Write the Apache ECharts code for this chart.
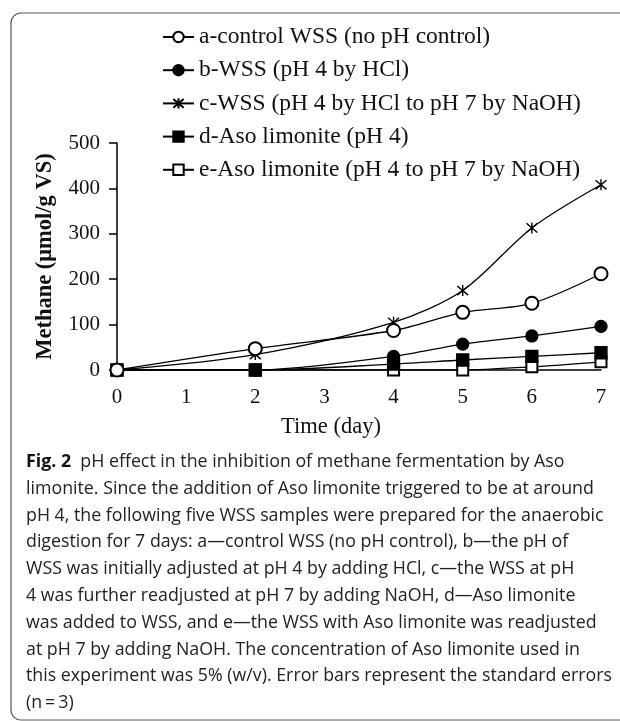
<!DOCTYPE html>
<html>
<head>
<meta charset="utf-8">
<script src="https://cdn.jsdelivr.net/npm/echarts@6/dist/echarts.min.js"></script>
<style>html,body{margin:0;padding:0;background:#fff;}#c{width:620px;height:721px;}</style>
</head>
<body>
<div id="c"></div>
<script>
// ---- data ----
const days = [0, 2, 4, 5, 6, 7];
const seriesNames = [
  'a-control WSS (no pH control)',
  'b-WSS (pH 4 by HCl)',
  'c-WSS (pH 4 by HCl to pH 7 by NaOH)',
  'd-Aso limonite (pH 4)',
  'e-Aso limonite (pH 4 to pH 7 by NaOH)'
];
const valuesA = [0, 47, 87, 127, 147, 212];
const valuesB = [0, 0, 30, 57, 75, 96];
const valuesC = [0, 34, 105, 175, 313, 408];
const valuesD = [0, 0, 13, 22, 30, 38];
const valuesE = [0, 0, 0, 0, 7, 18];
const yTicks = [0, 100, 200, 300, 400, 500];
const xTicks = [0, 1, 2, 3, 4, 5, 6, 7];
const captionLines = [
  'limonite. Since the addition of Aso limonite triggered to be at around',
  'pH 4, the following five WSS samples were prepared for the anaerobic',
  'digestion for 7 days: a\u2014control WSS (no pH control), b\u2014the pH of',
  'WSS was initially adjusted at pH 4 by adding HCl, c\u2014the WSS at pH',
  '4 was further readjusted at pH 7 by adding NaOH, d\u2014Aso limonite',
  'was added to WSS, and e\u2014the WSS with Aso limonite was readjusted',
  'at pH 7 by adding NaOH. The concentration of Aso limonite used in',
  'this experiment was 5% (w/v). Error bars represent the standard errors',
  '(n\u2009=\u20093)'
];
const captionHead = 'Fig. 2';
const captionFirst = 'pH effect in the inhibition of methane fermentation by Aso';

// ---- chart ----
const serif = '"Liberation Serif", "Times New Roman", serif';
const capFont = '"Open Sans", "Noto Sans", sans-serif';
const capSize = 17.8;
const pairs = v => days.map((d, i) => [d, v[i]]);
const asterisk = 'path://M0,0L10,10M10,0L0,10M5,-1L5,11';
const symbols = ['emptyCircle', 'circle', asterisk, 'rect', 'emptyRect'];
const sizes = [13, 12, 11, 12, 11];
const vals = [valuesA, valuesB, valuesC, valuesD, valuesE];

const series = vals.map((v, i) => ({
  name: seriesNames[i],
  type: 'line',
  data: pairs(v),
  smooth: 0.3,
  symbol: symbols[i],
  symbolSize: sizes[i],
  showSymbol: true,
  lineStyle: { color: '#000', width: 1.3 },
  itemStyle: i === 2
    ? { color: '#000', borderColor: '#000', borderWidth: 1.4 }
    : { color: '#000', borderColor: '#000', borderWidth: 1.3 },
  emphasis: { disabled: true },
  z: 10 - i
}));

const graphics = [
  { type: 'rect', shape: { x: 11, y: 13, width: 720, height: 707, r: 10 },
    style: { fill: 'none', stroke: '#555', lineWidth: 1.2 }, silent: true, z: 0 },
  { type: 'text', left: 26, top: 453,
    style: { text: '{b|' + captionHead + '}  ' + captionFirst,
      rich: { b: { fontFamily: capFont, fontWeight: 'bold', fontSize: capSize, fill: '#111' } },
      font: capSize + 'px ' + capFont, fill: '#222' } }
];
captionLines.forEach((t, i) => {
  graphics.push({ type: 'text', left: 26, top: 453 + (i + 1) * 26.8,
    style: { text: t, font: capSize + 'px ' + capFont, fill: '#222' } });
});

const chart = echarts.init(document.getElementById('c'), null, { renderer: 'canvas' });
chart.setOption({
  animation: false,
  backgroundColor: '#fff',
  legend: {
    orient: 'vertical',
    left: 157,
    top: 20,
    itemWidth: 31,
    itemHeight: 13,
    itemGap: 9.2,
    data: seriesNames,
    textStyle: { fontFamily: serif, fontSize: 23.5, color: '#111' },
    selectedMode: false
  },
  grid: { left: 117, right: 19, top: 143, bottom: 351, containLabel: false },
  xAxis: {
    type: 'value', min: xTicks[0], max: xTicks[xTicks.length - 1], interval: 1,
    name: 'Time (day)', nameLocation: 'middle', nameGap: 46,
    nameTextStyle: { fontFamily: serif, fontSize: 22.5, color: '#111', padding: [0, 56, 0, 0] },
    axisLine: { lineStyle: { color: '#000', width: 1.5 } },
    axisTick: { show: false },
    splitLine: { show: false },
    axisLabel: { fontFamily: serif, fontSize: 21, color: '#111', margin: 17 }
  },
  yAxis: {
    type: 'value', min: yTicks[0], max: yTicks[yTicks.length - 1], interval: 100,
    name: 'Methane (\u03bcmol/g VS)', nameLocation: 'middle', nameGap: 60,
    nameTextStyle: { fontFamily: serif, fontSize: 22.5, fontWeight: 'bold', color: '#111' },
    axisLine: { show: true, lineStyle: { color: '#000', width: 1.5 } },
    axisTick: { show: true, inside: false, length: 8, lineStyle: { color: '#000', width: 1.5 } },
    splitLine: { show: false },
    axisLabel: { fontFamily: serif, fontSize: 21, color: '#111', margin: 17 }
  },
  series: series,
  graphic: graphics
});
</script>
</body>
</html>
